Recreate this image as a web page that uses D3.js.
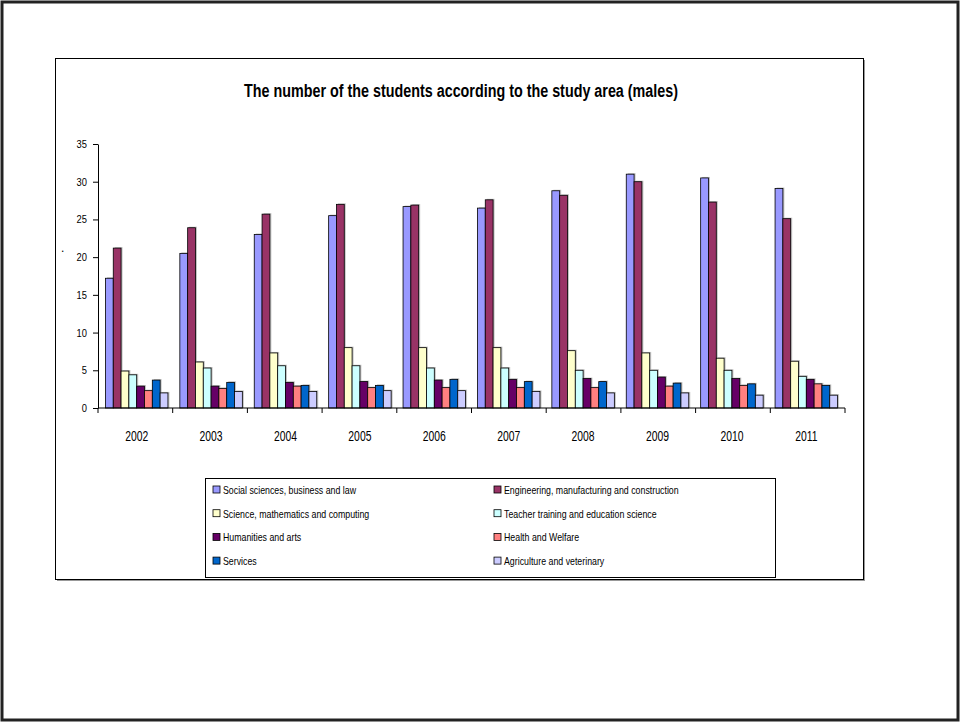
<!DOCTYPE html>
<html>
<head>
<meta charset="utf-8">
<script src="https://cdn.jsdelivr.net/npm/d3@7"></script>
<style>
  body { margin: 0; background: #fff; }
  text { font-family: "Liberation Sans", Arial, sans-serif; }
</style>
</head>
<body>
<svg id="chart" width="960" height="722"></svg>
<script>
var years = ["2002", "2003", "2004", "2005", "2006", "2007", "2008", "2009", "2010", "2011"];

var areas = [
  "Social sciences, business and law",
  "Engineering, manufacturing and construction",
  "Science, mathematics and computing",
  "Teacher training and education science",
  "Humanities and arts",
  "Health and Welfare",
  "Services",
  "Agriculture and veterinary"
];

var colors = ["#9999ff", "#993366", "#ffffcc", "#ccffff", "#660066", "#ff8080", "#0066cc", "#ccccff"];

// one array per study area, values by year
var social      = [17.2, 20.5, 23.0, 25.5, 26.7, 26.5, 28.8, 31.0, 30.5, 29.1];
var engineering = [21.2, 23.9, 25.7, 27.0, 26.9, 27.6, 28.2, 30.0, 27.3, 25.1];
var science     = [4.9, 6.1, 7.3, 8.0, 8.0, 8.0, 7.6, 7.3, 6.6, 6.2];
var teacher     = [4.4, 5.3, 5.6, 5.6, 5.3, 5.3, 5.0, 5.0, 5.0, 4.2];
var humanities  = [2.9, 2.9, 3.4, 3.5, 3.7, 3.8, 3.9, 4.1, 3.9, 3.8];
var health      = [2.3, 2.6, 2.9, 2.7, 2.7, 2.7, 2.7, 2.9, 3.0, 3.2];
var services    = [3.7, 3.4, 3.0, 3.0, 3.8, 3.5, 3.5, 3.3, 3.2, 3.0];
var agriculture = [2.0, 2.2, 2.2, 2.3, 2.3, 2.2, 2.0, 2.0, 1.7, 1.7];

var yTicks = [0, 5, 10, 15, 20, 25, 30, 35];

var series = [social, engineering, science, teacher, humanities, health, services, agriculture];

var svg = d3.select("#chart");

// squeeze text horizontally, the source uses a narrow face
function narrow(sel, f) {
  sel.each(function() {
    var w = this.getComputedTextLength();
    d3.select(this).attr("textLength", w * f).attr("lengthAdjust", "spacingAndGlyphs");
  });
}

// outer page frame
svg.append("rect")
    .attr("x", 2).attr("y", 2).attr("width", 956).attr("height", 718)
    .attr("fill", "#fff").attr("stroke", "#222").attr("stroke-width", 3);

// chart area box with thin shadow
svg.append("rect")
    .attr("x", 57).attr("y", 60).attr("width", 808).attr("height", 521)
    .attr("fill", "#999");
svg.append("rect")
    .attr("x", 55.5).attr("y", 58.5).attr("width", 808).attr("height", 521)
    .attr("fill", "#fff").attr("stroke", "#000").attr("stroke-width", 1);

svg.append("text")
    .attr("x", 461).attr("y", 97)
    .attr("text-anchor", "middle")
    .attr("font-size", 18).attr("font-weight", "bold")
    .attr("textLength", 434).attr("lengthAdjust", "spacingAndGlyphs")
    .text("The number of the students according to the study area (males)");

var margin = { left: 98, right: 845, top: 144, bottom: 408 };

var x0 = d3.scaleBand()
    .domain(years)
    .range([margin.left, margin.right])
    .paddingInner(0.16)
    .paddingOuter(0.1);

var x1 = d3.scaleBand()
    .domain(d3.range(areas.length))
    .range([0, x0.bandwidth()]);

var y = d3.scaleLinear()
    .domain([0, 35])
    .range([margin.bottom, margin.top]);

// bars
var groups = svg.append("g").attr("class", "bars")
  .selectAll("g")
  .data(years)
  .enter().append("g")
    .attr("transform", function(d) { return "translate(" + x0(d) + ",0)"; });

groups.selectAll("rect.shadow")
    .data(function(d, i) { return series.map(function(s, k) { return { k: k, v: s[i] }; }); })
    .enter().append("rect")
      .attr("class", "shadow")
      .attr("x", function(d) { return x1(d.k) + 1.5; })
      .attr("y", function(d) { return y(d.v) - 1; })
      .attr("width", x1.bandwidth())
      .attr("height", function(d) { return y(0) - y(d.v) + 1; })
      .attr("fill", "#999").attr("opacity", 0.6);

groups.selectAll("rect.bar")
    .data(function(d, i) { return series.map(function(s, k) { return { k: k, v: s[i] }; }); })
    .enter().append("rect")
      .attr("class", "bar")
      .attr("x", function(d) { return x1(d.k); })
      .attr("y", function(d) { return y(d.v); })
      .attr("width", x1.bandwidth())
      .attr("height", function(d) { return y(0) - y(d.v); })
      .attr("fill", function(d) { return colors[d.k]; })
      .attr("stroke", "#000").attr("stroke-width", 0.8);

// y axis
var yAxis = svg.append("g")
    .attr("transform", "translate(" + margin.left + ",0)")
    .call(d3.axisLeft(y).tickValues(yTicks).tickSize(5).tickSizeOuter(0));
yAxis.select(".domain").attr("stroke", "#000");
yAxis.selectAll("text").attr("font-size", 11).attr("font-family", null).attr("dx", "-3");
narrow(yAxis.selectAll("text"), 0.85);

// x axis: ticks at category boundaries
var xg = svg.append("g");
xg.append("line")
    .attr("x1", margin.left).attr("x2", margin.right)
    .attr("y1", y(0)).attr("y2", y(0))
    .attr("stroke", "#000");
var step = (margin.right - margin.left) / years.length;
xg.selectAll("line.tick")
    .data(d3.range(years.length + 1))
    .enter().append("line")
      .attr("x1", function(d) { return margin.left + d * step; })
      .attr("x2", function(d) { return margin.left + d * step; })
      .attr("y1", y(0)).attr("y2", y(0) + 5)
      .attr("stroke", "#000");
var yearLabels = xg.selectAll("text")
    .data(years)
    .enter().append("text")
      .attr("x", function(d) { return x0(d) + x0.bandwidth() / 2; })
      .attr("y", 441)
      .attr("text-anchor", "middle")
      .attr("font-size", 14)
      .text(function(d) { return d; });
narrow(yearLabels, 0.74);

// stray dot near y axis
svg.append("text").attr("x", 61).attr("y", 252).attr("font-size", 12).text(".");

// legend
var legend = svg.append("g");
legend.append("rect")
    .attr("x", 205.5).attr("y", 478.5).attr("width", 570).attr("height", 99)
    .attr("fill", "#fff").attr("stroke", "#000");

var items = legend.selectAll("g")
  .data(areas)
  .enter().append("g")
    .attr("transform", function(d, i) {
      var col = i % 2, row = Math.floor(i / 2);
      return "translate(" + (col === 0 ? 213 : 494) + "," + (486 + row * 23.7) + ")";
    });
items.append("rect")
    .attr("width", 7).attr("height", 7)
    .attr("fill", function(d, i) { return colors[i]; })
    .attr("stroke", "#000").attr("stroke-width", 0.8);
var legendText = items.append("text")
    .attr("x", 10).attr("y", 8)
    .attr("font-size", 11)
    .text(function(d) { return d; });
narrow(legendText, 0.8);
</script>
</body>
</html>
